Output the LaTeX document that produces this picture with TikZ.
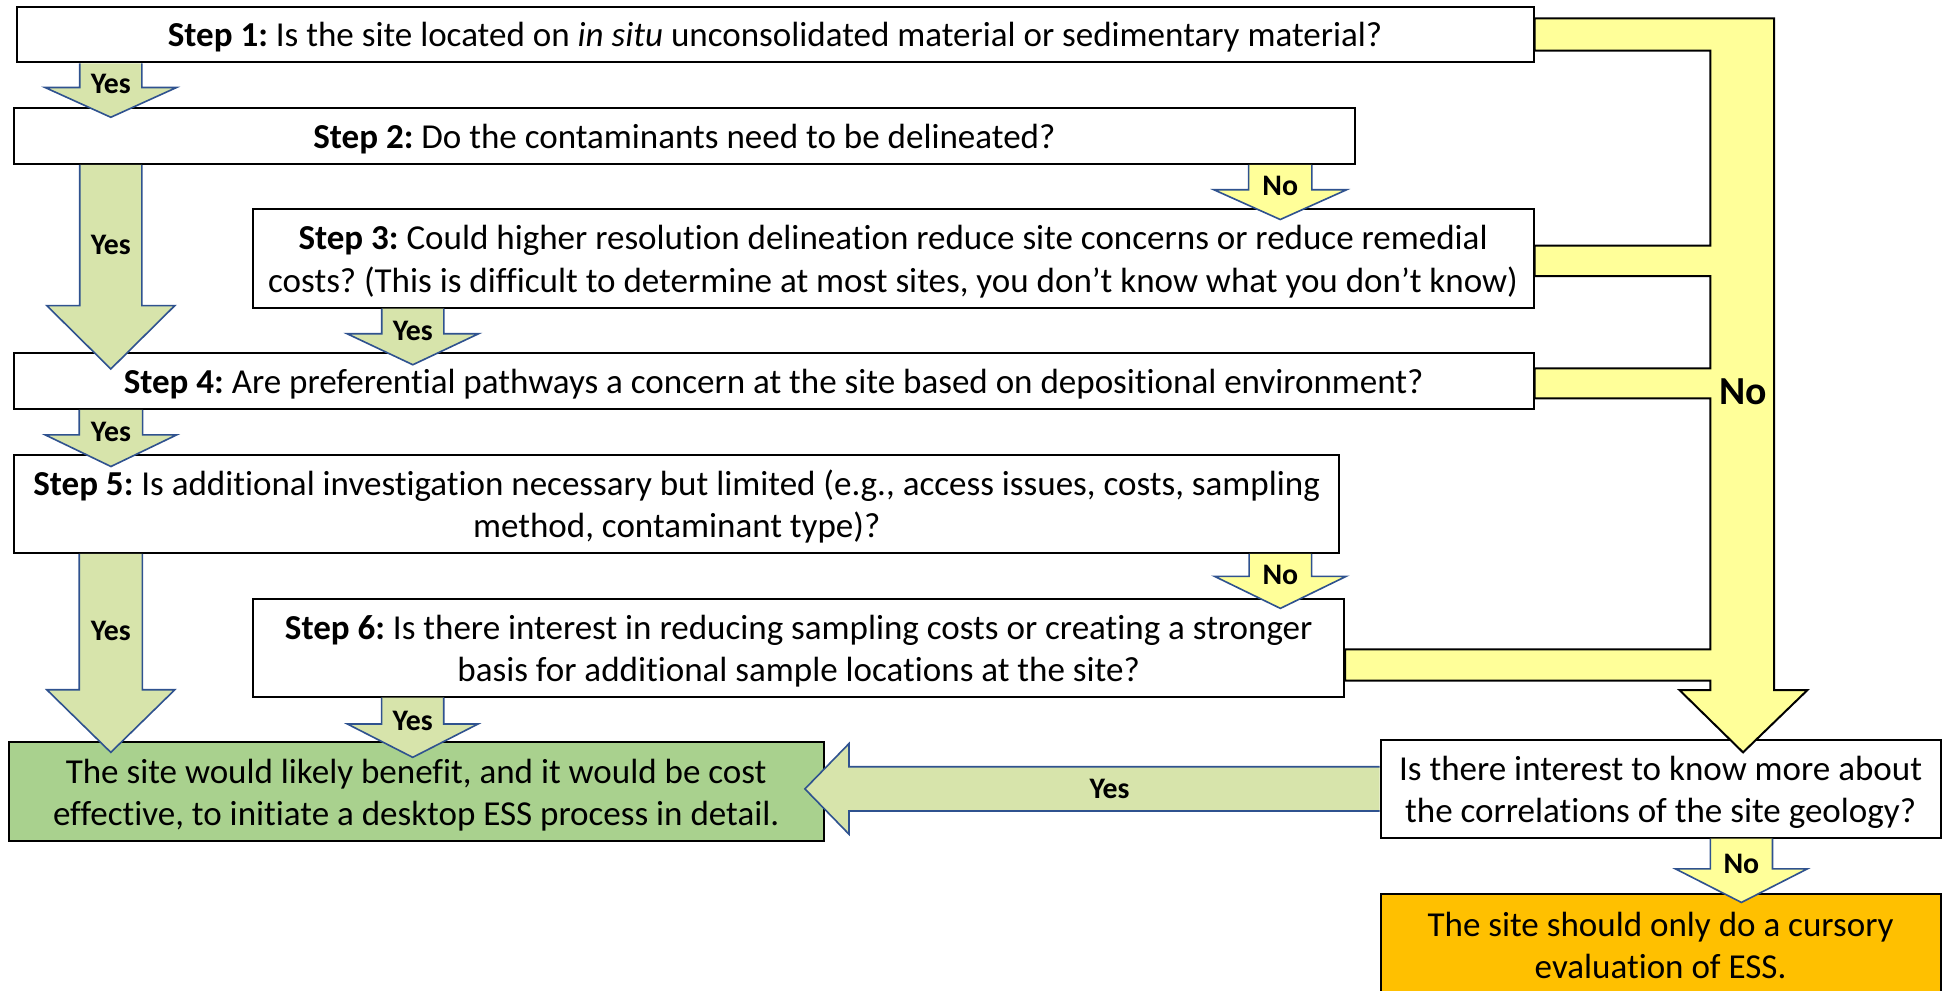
\documentclass[tikz,border=0pt]{standalone}
\usepackage{fontspec}
\setmainfont{Carlito}[Ligatures={TeX,NoCommon}]
\usetikzlibrary{calc}
\frenchspacing

\definecolor{arrowblue}{HTML}{2F528F}
\definecolor{yesgreen}{HTML}{D7E4AB}
\definecolor{nogold}{HTML}{FFFF99}
\definecolor{boxgreen}{HTML}{A9D18E}
\definecolor{boxorange}{HTML}{FFC000}

\newcommand\boxfont{\fontsize{14.1}{17}\selectfont}
\newcommand\lblfont{\fontsize{12}{14}\selectfont\bfseries}
\newcommand\biglblfont{\fontsize{16}{19}\selectfont\bfseries}
% line strut: every text line gets the same height and depth
\newcommand\st{\rule[-2.5pt]{0pt}{15pt}}

\tikzset{
  stepbox/.style={draw=black, line width=0.8pt, fill=white, inner sep=0pt,
                  align=center, font=\boxfont},
  yesfill/.style={fill=yesgreen},
  nofill/.style={fill=nogold},
  blockline/.style={draw=arrowblue, line width=0.65pt, line join=miter},
  lbl/.style={font=\lblfont, inner sep=0pt},
}

% Box given by its corners (x1,y1) and (x2,y2):
% [#1] extra style, #2..#5 corners, #6 name, #7 text
\newcommand\stepnode[7][]{%
  \node[stepbox, #1, minimum width={(#4-#2)*0.5pt}, minimum height={(#5-#3)*0.5pt}]
    (#6) at ({(#2+#4)/2},{(#3+#5)/2}) {#7};}

% Downward block arrow between two boxes:
% #1 fill style, #2 source node, #3 target node, #4 centre x,
% #5 half shaft, #6 half head, #7 head length, #8 tip overlap, #9 label
\newcommand\downblock[9]{%
  \coordinate (bt) at (#2.south -| #4,0);
  \coordinate (bp) at ($(#3.north -| #4,0)+(0,#8)$);
  \coordinate (bh) at ($(bp)+(0,-#7)$);
  \fill[#1] ($(bt)+(-#5,0)$) -- ($(bh)+(-#5,0)$) -- ($(bh)+(-#6,0)$) -- (bp)
     -- ($(bh)+(#6,0)$) -- ($(bh)+(#5,0)$) -- ($(bt)+(#5,0)$) -- cycle;
  \draw[blockline] ($(bt)+(-#5,0)$) -- ($(bh)+(-#5,0)$) -- ($(bh)+(-#6,0)$) -- (bp)
     -- ($(bh)+(#6,0)$) -- ($(bh)+(#5,0)$) -- ($(bt)+(#5,0)$);
  \node[lbl] at ($(bt)!0.39!(bp)$) {#9};
}

\begin{document}
\begin{tikzpicture}[x=0.5pt, y=-0.5pt]
\useasboundingbox (0,0) rectangle (1568,797);

% question and result boxes
\stepnode{13.3}{5.4}{1234.4}{50.2}{s1}
  {\st\textbf{Step 1:} Is the site located on \textit{in situ} unconsolidated material or sedimentary material?}
\stepnode{11.1}{87.2}{1090.7}{132}{s2}
  {\st\textbf{Step 2:} Do the contaminants need to be delineated?}
\stepnode{203.4}{168.5}{1234.4}{247.7}{s3}
  {\st\textbf{Step 3:} Could higher resolution delineation reduce site concerns or reduce remedial\\
   \st costs? (This is difficult to determine at most sites, you don’t know what you don’t know)}
\stepnode{11.1}{284.4}{1234.4}{329.2}{s4}
  {\st\textbf{Step 4:} Are preferential pathways a concern at the site based on depositional environment?}
\stepnode{11.3}{366.3}{1078.1}{445}{s5}
  {\st\textbf{Step 5:} Is additional investigation necessary but limited (e.g., access issues, costs, sampling\\
   \st method, contaminant type)?}
\stepnode{203.8}{482.2}{1082}{560.8}{s6}
  {\st\textbf{Step 6:} Is there interest in reducing sampling costs or creating a stronger\\
   \st basis for additional sample locations at the site?}
\stepnode[fill=boxgreen]{6.9}{597.6}{663.1}{677}{good}
  {\st The site would likely benefit, and it would be cost\\
   \st effective, to initiate a desktop ESS process in detail.}
\stepnode{1111.3}{595.7}{1562}{674.3}{q}
  {\st Is there interest to know more about\\\st the correlations of the site geology?}
\stepnode[fill=boxorange]{1111.3}{719.9}{1562}{801}{cursory}
  {\st The site should only do a cursory\\\st evaluation of ESS.}

% the common "No" channel collecting steps 1, 3, 4 and 6
\draw[nofill, draw=black, line width=0.8pt, line join=miter]
  (s1.east |- 0,14.8) -- (1428,14.8) -- (1428,555.4) -- (1454.9,555.4)
  -- ($(q.north -| 1403,0)+(0,10.7)$) -- (1351.8,555.4) -- (1376.7,555.4)
  -- (1376.7,547.9) -- (s6.east |- 0,547.9) -- (s6.east |- 0,522.7)
  -- (1376.7,522.7) -- (1376.7,320.6) -- (s4.east |- 0,320.6)
  -- (s4.east |- 0,296.5) -- (1376.7,296.5) -- (1376.7,222.2)
  -- (s3.east |- 0,222.2) -- (s3.east |- 0,197.8) -- (1376.7,197.8)
  -- (1376.7,40.8) -- (s1.east |- 0,40.8) -- cycle;
\node[font=\biglblfont, inner sep=0pt] (nobig) at (1403,315) {No};

% block arrows between the boxes
\downblock{yesfill}{s1}{s2}{89.2}{25}{53}{24}{8}{Yes}
\downblock{yesfill}{s2}{s4}{89.2}{25}{51.5}{51}{13.4}{Yes}
\downblock{nofill}{s2}{s3}{1030.5}{25.5}{53.5}{24}{9}{No}
\downblock{yesfill}{s3}{s4}{332.3}{25}{53}{25}{10}{Yes}
\downblock{yesfill}{s4}{s5}{89.3}{25.5}{53}{25.5}{10}{Yes}
\downblock{yesfill}{s5}{good}{89.2}{25.4}{51.5}{50.4}{8.8}{Yes}
\downblock{nofill}{s5}{s6}{1030.6}{25.2}{53}{25.8}{8.3}{No}
\downblock{yesfill}{s6}{good}{332.2}{25}{52.5}{26.8}{12.8}{Yes}
\downblock{nofill}{q}{cursory}{1401.7}{25}{53}{27}{7.3}{No}

% leftward arrow from the geology question to the green result
\coordinate (lt) at (q.west);
\coordinate (lp) at ($(good.east |- q.west)+(-16,0)$);
\coordinate (lh) at ($(lp)+(35.5,0)$);
\fill[yesfill] ($(lt)+(0,-17.8)$) -- ($(lh)+(0,-17.8)$) -- ($(lh)+(0,-36.5)$) -- (lp)
  -- ($(lh)+(0,36.5)$) -- ($(lh)+(0,17.8)$) -- ($(lt)+(0,17.8)$) -- cycle;
\draw[blockline] ($(lt)+(0,-17.8)$) -- ($(lh)+(0,-17.8)$) -- ($(lh)+(0,-36.5)$) -- (lp)
  -- ($(lh)+(0,36.5)$) -- ($(lh)+(0,17.8)$) -- ($(lt)+(0,17.8)$);
\node[lbl] at ($(lp)!0.53!(lt)$) {Yes};
\end{tikzpicture}
\end{document}
